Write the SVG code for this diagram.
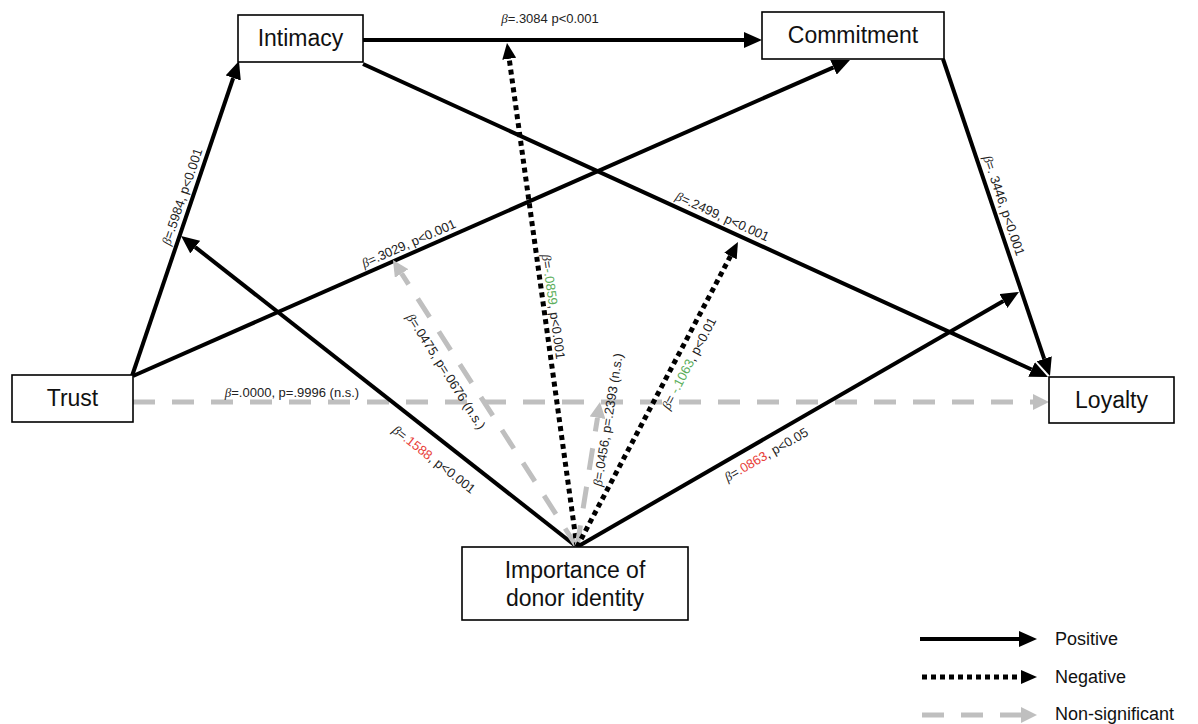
<svg xmlns="http://www.w3.org/2000/svg" width="1198" height="724" viewBox="0 0 1198 724">
<style>
.box{fill:#fff;stroke:#000;stroke-width:1.6}
.nt{font-family:"Liberation Sans",Arial,sans-serif;font-size:23px;fill:#111;text-anchor:middle}
.lb{font-family:"Liberation Sans",Arial,sans-serif;font-size:13px;fill:#222;text-anchor:middle}
.lg{font-family:"Liberation Sans",Arial,sans-serif;font-size:18px;fill:#111}
.b{font-family:"Liberation Serif",serif;font-style:italic}
.red{fill:#e8413a}
.grn{fill:#5aae5a}
.pos{stroke:#000;stroke-width:4;fill:none;marker-end:url(#ah)}
.neg{stroke:#000;stroke-width:5;stroke-dasharray:5 4;fill:none;marker-end:url(#ad)}
.ns{stroke:#bfbfbf;stroke-width:5;stroke-dasharray:22 17;fill:none;marker-end:url(#ag)}
</style>
<defs>
<marker id="ah" markerUnits="userSpaceOnUse" markerWidth="18" markerHeight="16" viewBox="0 0 18 16" refX="0" refY="8" orient="auto"><path d="M0,0 L18,8 L0,16 z" fill="#000"/></marker>
<marker id="ad" markerUnits="userSpaceOnUse" markerWidth="16" markerHeight="14" viewBox="0 0 16 14" refX="0" refY="7" orient="auto"><path d="M0,0 L16,7 L0,14 z" fill="#000"/></marker>
<marker id="ag" markerUnits="userSpaceOnUse" markerWidth="16" markerHeight="16" viewBox="0 0 16 16" refX="0" refY="8" orient="auto"><path d="M0,0 L16,8 L0,16 z" fill="#bfbfbf"/></marker>
</defs>
<rect width="1198" height="724" fill="#fff"/>
<g id="connectors">
<line class="pos" x1="363" y1="40" x2="744" y2="40"/>
<line class="pos" x1="132" y1="376" x2="233.2" y2="78"/>
<line class="pos" x1="133" y1="376" x2="833.5" y2="67.3"/>
<line class="pos" x1="363" y1="64" x2="1031.6" y2="369.5"/>
<line class="pos" x1="943" y1="59" x2="1044.2" y2="358.9"/>
<line class="ns" x1="133" y1="402" x2="1033" y2="402"/>
<line class="pos" x1="577" y1="547" x2="195.2" y2="247.1"/>
<line class="ns" x1="577" y1="547" x2="401.6" y2="273.5"/>
<line class="neg" x1="577" y1="547" x2="509.2" y2="58.8"/>
<line class="ns" x1="577" y1="547" x2="597.5" y2="417.8"/>
<line class="neg" x1="577" y1="547" x2="730.5" y2="256.1"/>
<line class="pos" x1="577" y1="547" x2="1003.4" y2="301"/>
<g id="labels">
<text class="lb" x="550" y="23"><tspan class="b">β</tspan>=.3084 p&lt;0.001</text>
<text class="lb" transform="translate(192,200) rotate(-71.1)" y="-6"><tspan class="b">β</tspan>=.5984, p&lt;0.001</text>
<text class="lb" transform="translate(413,253) rotate(-23.8)" y="-6"><tspan class="b">β</tspan>=.3029, p&lt;0.001</text>
<text class="lb" transform="translate(718,226) rotate(24.6)" y="-6"><tspan class="b">β</tspan>=.2499, p&lt;0.001</text>
<text class="lb" transform="translate(994,209) rotate(71.3)" y="-6"><tspan class="b">β</tspan>=. 3446, p&lt;0.001</text>
<text class="lb" x="292" y="397"><tspan class="b">β</tspan>=.0000, p=.9996 (n.s.)</text>
<text class="lb" transform="translate(446,444) rotate(38.1)" y="24"><tspan class="b">β</tspan>=<tspan class="red">.1588</tspan>, p&lt;0.001</text>
<text class="lb" transform="translate(459,363) rotate(57.3)" y="20"><tspan class="b">β</tspan>=.0475, p=.0676 (n.s.)</text>
<text class="lb" transform="translate(544,308) rotate(82.1)" y="-5"><tspan class="b">β</tspan>=<tspan class="grn">-.0859</tspan>, p&lt;0.001</text>
<text class="lb" transform="translate(597.5,418) rotate(-81)" y="15"><tspan class="b">β</tspan>=.0456, p=.2393 (n.s.)</text>
<text class="lb" transform="translate(677,357) rotate(-62.2)" y="18"><tspan class="b">β</tspan>= <tspan class="grn">-.1063</tspan>, p&lt;0.01</text>
<text class="lb" transform="translate(759,442) rotate(-30)" y="19"><tspan class="b">β</tspan>=<tspan class="red">.0863</tspan>, p&lt;0.05</text>
</g>
</g>
<g id="node-trust"><rect class="box" x="12" y="375" width="121" height="47"/><text class="nt" x="72.5" y="406">Trust</text></g>
<g id="node-intimacy"><rect class="box" x="238" y="15" width="125" height="47"/><text class="nt" x="300.5" y="46">Intimacy</text></g>
<g id="node-commitment"><rect class="box" x="762" y="12" width="182" height="47"/><text class="nt" x="853" y="43">Commitment</text></g>
<g id="node-loyalty"><rect class="box" x="1049" y="377" width="125" height="46"/><text class="nt" x="1111.5" y="408">Loyalty</text></g>
<g id="node-importance"><rect class="box" x="462" y="547" width="226" height="73"/><text class="nt" x="575" y="578">Importance of</text><text class="nt" x="575" y="606">donor identity</text></g>
<g id="legend">
<line class="pos" x1="920" y1="639" x2="1019" y2="639"/>
<text class="lg" x="1055" y="645">Positive</text>
<line class="neg" x1="922" y1="677" x2="1021" y2="677"/>
<text class="lg" x="1055" y="683">Negative</text>
<line class="ns" x1="922" y1="715" x2="1021" y2="715"/>
<text class="lg" x="1055" y="720">Non-significant</text>
</g>
</svg>
